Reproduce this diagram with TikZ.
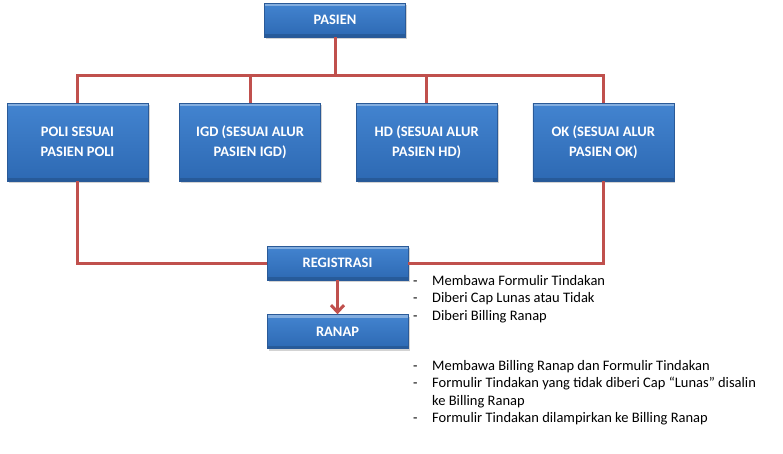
\documentclass[tikz,border=0pt]{standalone}
\usepackage{fontspec}
\setmainfont{Carlito}
\usetikzlibrary{arrows.meta,positioning,shadows}

\definecolor{boxtop}{HTML}{4384D0}
\definecolor{boxbot}{HTML}{2D69B3}
\definecolor{boxedge}{HTML}{2A5A98}
\definecolor{flowline}{HTML}{C0504D}

\begin{document}
\begin{tikzpicture}[x=1pt,y=-1pt,>={Straight Barb[length=7pt,width=13pt]},
        unit/.style={draw=boxedge,line width=0.6pt,top color=boxtop,bottom color=boxbot,
                text=white,font=\fontsize{14.5}{20}\selectfont\bfseries,align=center,
                minimum width=141pt,inner sep=0pt,
                drop shadow={opacity=0.35,shadow xshift=1.5pt,shadow yshift=-2pt},
                path picture={\fill[white,opacity=0.35] (path picture bounding box.north west)
                        rectangle ([yshift=-3pt]path picture bounding box.north east);
                        \fill[black,opacity=0.15] (path picture bounding box.south west)
                        rectangle ([yshift=3pt]path picture bounding box.south east);}},
        small/.style={unit,minimum height=34pt},
        tall/.style={unit,minimum height=78pt},
        wire/.style={draw=flowline,line width=3pt},
        notes/.style={anchor=north west,align=left,inner sep=0pt,
                font=\fontsize{14.5}{17.5}\selectfont}]

                \useasboundingbox (0,0) rectangle (783,453);

                \node[small] (pasien) at (335,20) {PASIEN};

                \node[tall] (poli) at (77.5,142) {POLI SESUAI\\PASIEN POLI};

                \node[tall] (igd) [right=31pt of poli] {IGD (SESUAI ALUR\\PASIEN IGD)};

                \node[tall] (hd) [right=35pt of igd] {HD (SESUAI ALUR\\PASIEN HD)};

                \node[tall] (ok) [right=35pt of hd] {OK (SESUAI ALUR\\PASIEN OK)};

                \node[small] (reg) at (337.5,263) {REGISTRASI};

                \node[small] (ranap) [below=34pt of reg] {RANAP};

                \coordinate (bus) at (335,75);

                

                \path[wire] (pasien) -- (bus)

                            (poli.north) |- (bus) -| (ok.north)

                            (igd.north) -- (igd.north |- bus)

                            (hd.north) -- (hd.north |- bus)

                            (poli.south) |- (reg.west)

                            (ok.south) |- (reg.east);

                \draw[wire,->] (reg) -- (ranap);

                

                \node[notes] (regnotes) at (413,275) {\makebox[19pt][l]{-}Membawa Formulir Tindakan\\
                        \makebox[19pt][l]{-}Diberi Cap Lunas atau Tidak\\
                        \makebox[19pt][l]{-}Diberi Billing Ranap};

                \node[notes] (ranapnotes) at (413,360) {\makebox[19pt][l]{-}Membawa Billing Ranap dan Formulir Tindakan\\
                        \makebox[19pt][l]{-}Formulir Tindakan yang tidak diberi Cap ``Lunas'' disalin\\
                        \hspace*{19pt}ke Billing Ranap\\
                        \makebox[19pt][l]{-}Formulir Tindakan dilampirkan ke Billing Ranap};

            \end{tikzpicture}
\end{document}
